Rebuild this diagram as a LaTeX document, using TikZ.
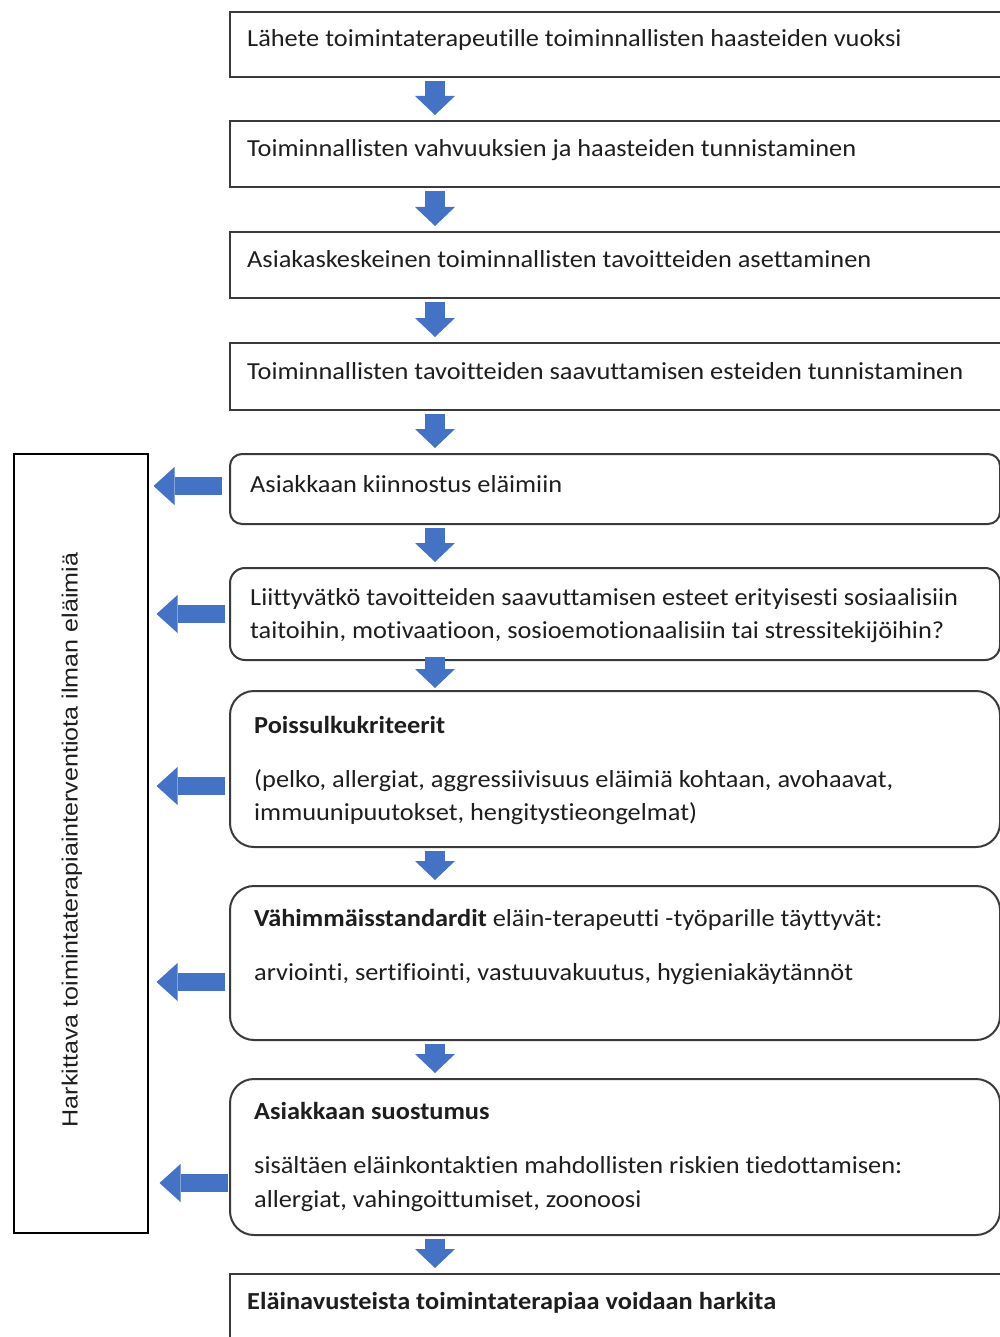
\documentclass[tikz,border=0pt]{standalone}
\usepackage{fontspec}
\setmainfont{Carlito}[FakeStretch=1.075,Ligatures=NoCommon]
\newfontfamily\arialf{Liberation Sans}[FakeStretch=1.14]
\usetikzlibrary{arrows.meta}
\definecolor{ablue}{HTML}{4472C4}
\definecolor{bord}{HTML}{3A3A3A}
\definecolor{ink}{HTML}{1E1E1E}
\begin{document}
\begin{tikzpicture}[x=1pt,y=-1pt,
  sqbox/.style={draw=bord, line width=2pt, minimum width=776pt, anchor=north west, inner sep=0pt},
  rbox/.style={draw=bord, line width=2pt, minimum width=770pt, anchor=north west, inner sep=0pt, rounded corners=#1},
  txt/.style={anchor=base west, inner sep=0pt, text=ink, font=\fontsize{24.5}{28}\selectfont, yshift=-1.5pt},
  darrow/.style={draw=ablue, line width=20pt, -{Triangle[width=40pt,length=19pt,line width=0pt]}, shorten <=3pt, shorten >=5pt},
  larrow/.style={draw=ablue, line width=18pt, -{Triangle[width=38pt,length=21pt,line width=0pt]}, shorten <=4pt, shorten >=8pt}
]
\useasboundingbox (0,0) rectangle (1000,1337);

% boxes
\node[sqbox, minimum height=65pt] (b1) at (229,11) {};
\node[sqbox, minimum height=66pt] (b2) at (229,120) {};
\node[sqbox, minimum height=66pt] (b3) at (229,231) {};
\node[sqbox, minimum height=67pt] (b4) at (229,342) {};
\node[rbox=12pt, minimum height=70pt] (b5) at (229,453) {};
\node[rbox=15pt, minimum height=92pt] (b6) at (229,567) {};
\node[rbox=24pt, minimum height=156pt] (b7) at (229,690) {};
\node[rbox=24pt, minimum height=154pt] (b8) at (229,885) {};
\node[rbox=24pt, minimum height=156pt] (b9) at (229,1078) {};
\node[sqbox, minimum height=90pt] (b10) at (229,1273) {};
\node[draw=black, line width=1.5pt, anchor=north west, inner sep=0pt, minimum width=134pt, minimum height=779pt] (L) at (13,453) {};

% texts
\node[txt] (t1) at (247,45) {Lähete toimintaterapeutille toiminnallisten haasteiden vuoksi};
\node[txt] (t2) at (247,155) {Toiminnallisten vahvuuksien ja haasteiden tunnistaminen};
\node[txt] (t3) at (247,266) {Asiakaskeskeinen toiminnallisten tavoitteiden asettaminen};
\node[txt] (t4) at (247,378) {Toiminnallisten tavoitteiden saavuttamisen esteiden tunnistaminen};
\node[txt] (t5) at (250,491) {Asiakkaan kiinnostus eläimiin};
\node[txt] (t6a) at (250,604) {Liittyvätkö tavoitteiden saavuttamisen esteet erityisesti sosiaalisiin};
\node[txt] (t6b) at (250,637) {taitoihin, motivaatioon, sosioemotionaalisiin tai stressitekijöihin?};
\node[txt] (t7a) at (254,732) {\textbf{Poissulkukriteerit}};
\node[txt] (t7b) at (254,786) {(pelko, allergiat, aggressiivisuus eläimiä kohtaan, avohaavat,};
\node[txt] (t7c) at (254,819) {immuunipuutokset, hengitystieongelmat)};
\node[txt] (t8a) at (254,925) {\textbf{Vähimmäisstandardit} eläin-terapeutti -työparille täyttyvät:};
\node[txt] (t8b) at (254,979) {arviointi, sertifiointi, vastuuvakuutus, hygieniakäytännöt};
\node[txt] (t9a) at (254,1118) {\textbf{Asiakkaan suostumus}};
\node[txt] (t9b) at (254,1172) {sisältäen eläinkontaktien mahdollisten riskien tiedottamisen:};
\node[txt] (t9c) at (254,1206) {allergiat, vahingoittumiset, zoonoosi};
\node[txt] (t10) at (247,1308) {\textbf{Eläinavusteista toimintaterapiaa voidaan harkita}};
\node[rotate=90, inner sep=0pt, text=ink, font=\arialf\fontsize{22}{26}\selectfont] (lt) at (72,840) {Harkittava toimintaterapiainterventiota ilman eläimiä};

% down arrows
\coordinate (ax) at (435,0);
\draw[darrow] (b1.south -| ax) -- (b2.north -| ax);
\draw[darrow] (b2.south -| ax) -- (b3.north -| ax);
\draw[darrow] (b3.south -| ax) -- (b4.north -| ax);
\draw[darrow] (b4.south -| ax) -- (b5.north -| ax);
\draw[darrow] (b5.south -| ax) -- (b6.north -| ax);
\draw[darrow, shorten <=-4pt, shorten >=2pt] (b6.south -| ax) -- (b7.north -| ax);
\draw[darrow] (b7.south -| ax) -- (b8.north -| ax);
\draw[darrow] (b8.south -| ax) -- (b9.north -| ax);
\draw[darrow] (b9.south -| ax) -- (b10.north -| ax);

% left arrows
\coordinate (y5) at (0,486);
\coordinate (y6) at (0,614);
\coordinate (y7) at (0,786);
\coordinate (y8) at (0,982);
\coordinate (y9) at (0,1183);
\draw[larrow, shorten <=7pt, shorten >=5pt] (b5.west |- y5) -- (L.east |- y5);
\draw[larrow] (b6.west |- y6) -- (L.east |- y6);
\draw[larrow] (b7.west |- y7) -- (L.east |- y7);
\draw[larrow] (b8.west |- y8) -- (L.east |- y8);
\draw[larrow, shorten <=1pt, shorten >=11pt] (b9.west |- y9) -- (L.east |- y9);
\end{tikzpicture}
\end{document}
